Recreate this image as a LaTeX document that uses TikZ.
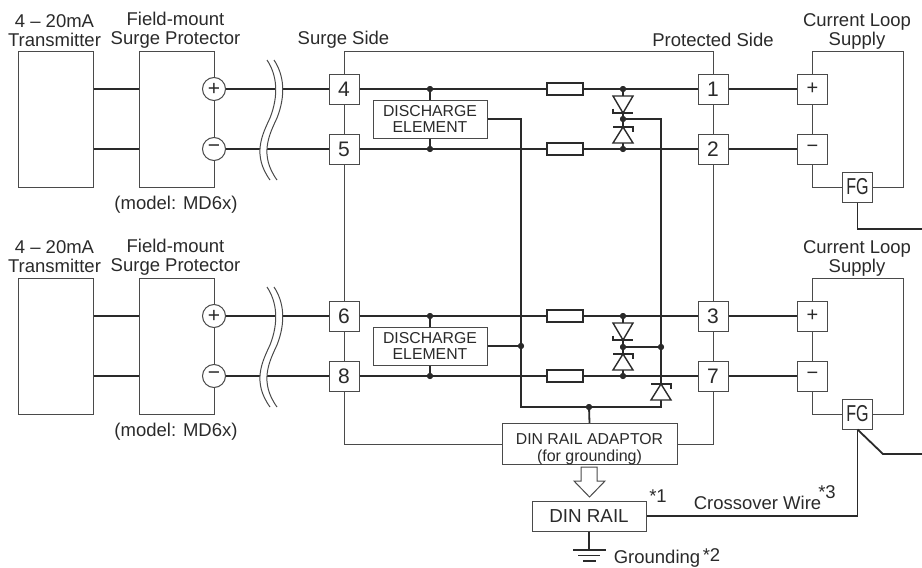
\documentclass[tikz,border=0pt]{standalone}
\usepackage{fontspec}
\usepackage{graphicx}
\setmainfont{Liberation Sans}
\definecolor{ink}{HTML}{2A2A2A}
\tikzset{
  wire/.style={draw=ink,line width=1.8pt},
  thinl/.style={draw=ink!85,line width=1pt},
  term/.style={draw=ink!85,line width=1pt,fill=white,minimum size=30pt,inner sep=0pt,text=ink,font=\fontsize{21}{21}\selectfont},
  bigbox/.style={draw=ink!85,line width=1pt,fill=white,inner sep=0pt,text=ink},
  lab/.style={text=ink,inner sep=0pt,align=center,font=\fontsize{18.5}{19}\selectfont},
  slab/.style={text=ink,inner sep=0pt,align=center,font=\fontsize{15.8}{16.5}\selectfont},
  ring/.style={circle,draw=ink!85,line width=1pt,fill=white,minimum size=23pt,inner sep=0pt,text=ink,font=\fontsize{21}{21}\selectfont},
  res/.style={draw=ink,line width=1.5pt,fill=white,minimum width=36pt,minimum height=12pt,inner sep=0pt},
  dot/.style={circle,fill=ink,minimum size=6pt,inner sep=0pt},
  zdown/.pic={\draw[draw=ink,line width=1.4pt,fill=white] (-10,-17)--(10,-17)--(0,0)--cycle;
     \draw[draw=ink,line width=1.4pt] (-10,-4.5)--(-10,0)--(10,0);},
  zup/.pic={\draw[draw=ink,line width=1.4pt,fill=white] (-10,16)--(10,16)--(0,0)--cycle;
     \draw[draw=ink,line width=1.4pt] (-10,0)--(10,0)--(10,4.5);},
  breakmark/.pic={
     \fill[white] (0,0) .. controls (10,15) and (12,35) .. (3,58) .. controls (-5,75) and (-15,95) .. (3,120)
        -- (10,120) .. controls (-8,95) and (2,75) .. (10,58) .. controls (19,35) and (17,15) .. (7,0) -- cycle;
     \draw[thinl] (0,0) .. controls (10,15) and (12,35) .. (3,58) .. controls (-5,75) and (-15,95) .. (3,120);
     \draw[thinl] (7,0) .. controls (17,15) and (19,35) .. (10,58) .. controls (2,75) and (-8,95) .. (10,120);},
}
\newcommand{\FGtxt}{\fontsize{23}{23}\selectfont\scalebox{0.7}[1]{FG}}
\begin{document}
\begin{tikzpicture}[x=1pt,y=-1pt]
\useasboundingbox (0,0) rectangle (922,568);
% outer boxes
\node[bigbox,minimum width=75pt,minimum height=136pt] (tx1) at (55.5,119) {};
\node[bigbox,minimum width=75pt,minimum height=136pt] (sp1) at (176.5,119) {};
\node[bigbox,minimum width=75pt,minimum height=136pt] (tx2) at (55.5,346) {};
\node[bigbox,minimum width=75pt,minimum height=136pt] (sp2) at (176.5,346) {};
\node[ring] (p1) at (214,89) {+};
\node[ring] (m1) at (214,149) {−};
\node[ring] (p2) at (214,316) {+};
\node[ring] (m2) at (214,376) {−};
% terminals
\node[term] (t4) at (344,89) {4};
\node[term] (t5) at (344,149) {5};
\node[term] (t6) at (344,316) {6};
\node[term] (t8) at (344,376) {8};
\node[term] (t1) at (713,89) {1};
\node[term] (t2) at (713,149) {2};
\node[term] (t3) at (713,316) {3};
\node[term] (t7) at (713,376) {7};
\node[term] (sa) at (812.5,89) {\fontsize{20}{20}\selectfont +};
\node[term] (sb) at (812.5,149) {\fontsize{20}{20}\selectfont −};
\node[term] (sc) at (812.5,316) {\fontsize{20}{20}\selectfont +};
\node[term] (sd) at (812.5,376) {\fontsize{20}{20}\selectfont −};
\node[term] (fg1) at (857.5,187) {\FGtxt};
\node[term] (fg2) at (857.5,414) {\FGtxt};
% resistors
\node[res] (r1) at (565,89) {};
\node[res] (r2) at (565,149) {};
\node[res] (r3) at (565,316) {};
\node[res] (r4) at (565,376) {};
% discharge elements
\node[bigbox,slab,minimum width=114pt,minimum height=38pt] (de1) at (430,119) {DISCHARGE\\ELEMENT};
\node[bigbox,slab,minimum width=114pt,minimum height=38pt] (de2) at (430,346) {DISCHARGE\\ELEMENT};
% adaptor and rail
\node[bigbox,slab,minimum width=175pt,minimum height=38pt] (ad) at (589.5,444) {\rule{0pt}{21pt}DIN RAIL ADAPTOR\\[0.5pt]{\fontsize{16}{16}\selectfont (for grounding)}};
\node[bigbox,minimum width=114pt,minimum height=30pt,font=\fontsize{18.8}{18}\selectfont] (rail) at (589,516) {DIN RAIL};
% junctions
\node[dot] (j1) at (430,89) {};
\node[dot] (j2) at (430,149) {};
\node[dot] (j3) at (430,316) {};
\node[dot] (j4) at (430,376) {};
\node[dot] (k1) at (623,89) {};
\node[dot] (k2) at (623,119) {};
\node[dot] (k3) at (623,149) {};
\node[dot] (k4) at (623,316) {};
\node[dot] (k5) at (623,347) {};
\node[dot] (k6) at (623,376) {};
\node[dot] (n1) at (661,347) {};
\node[dot] (n2) at (521,346) {};
\node[dot] (n3) at (589,407) {};
% thin frame coordinates
\coordinate (stl) at (344,51);
\coordinate (str) at (713,51);
\coordinate (ctl1) at (812.5,51);
\coordinate (ctr1) at (903,51);
\coordinate (cbl1) at (812.5,187);
\coordinate (cbr1) at (903,187);
\coordinate (ctl2) at (812.5,278);
\coordinate (ctr2) at (903,278);
\coordinate (cbl2) at (812.5,414);
\coordinate (cbr2) at (903,414);
\coordinate (eL) at (922,229);
\coordinate (eL2) at (922,454);
\coordinate (bend2) at (883,454);
\coordinate (c1) at (521,119);
\coordinate (c2) at (661,119);
\coordinate (c3) at (521,407);
\coordinate (c4) at (661,407);
\coordinate (f1) at (857.5,229);
\coordinate (f2) at (857.5,516);
% thin lines
\draw[thinl] (p1.south)--(m1.north);
\draw[thinl] (p1.north)--(p1.north|-sp1.north);
\draw[thinl] (m1.south)--(m1.south|-sp1.south);
\draw[thinl] (p2.north)--(p2.north|-sp2.north);
\draw[thinl] (m2.south)--(m2.south|-sp2.south);
\draw[thinl] (p2.south)--(m2.north);
\draw[thinl] (t4.north)--(stl)--(str)--(t1.north);
\draw[thinl] (t4)--(t5);\draw[thinl] (t5)--(t6);\draw[thinl] (t6)--(t8);
\draw[thinl] (t1)--(t2);\draw[thinl] (t2)--(t3);\draw[thinl] (t3)--(t7);
\draw[thinl] (t8.south)|-(ad.west);
\draw[thinl] (t7.south)|-(ad.east);
\draw[thinl] (sa.north)--(ctl1)--(ctr1)--(cbr1)--(fg1.east);
\draw[thinl] (sa)--(sb);
\draw[thinl] (sb.south)--(cbl1)--(fg1.west);
\draw[thinl] (sc.north)--(ctl2)--(ctr2)--(cbr2)--(fg2.east);
\draw[thinl] (sc)--(sd);
\draw[thinl] (sd.south)--(cbl2)--(fg2.west);
% heavy wires
\foreach \a/\b in {p1/t4,m1/t5,p2/t6,m2/t8}{\draw[wire] (\a)--(\b);}
\pic at (267,60) {breakmark};
\pic at (267,287) {breakmark};
\draw[wire] (tx1.east|-p1)--(sp1.west|-p1);
\draw[wire] (tx1.east|-m1)--(sp1.west|-m1);
\draw[wire] (tx2.east|-p2)--(sp2.west|-p2);
\draw[wire] (tx2.east|-m2)--(sp2.west|-m2);
\foreach \a/\b/\c/\d in {t4/r1/t1/sa,t5/r2/t2/sb,t6/r3/t3/sc,t8/r4/t7/sd}{
  \draw[wire] (\a)--(\b); \draw[wire] (\b)--(\c); \draw[wire] (\c)--(\d);}
\draw[wire] (j1)--(de1);\draw[wire] (de1)--(j2);
\draw[wire] (j3)--(de2);\draw[wire] (de2)--(j4);
\draw[wire] (de1.east)--(c1)--(c3)--(c4)--(c2)--(k2);
\draw[wire] (de2.east)--(n2);
\draw[wire] (k5)--(n1);
\draw[wire] (n3)--(ad.north);
\draw[wire] (k1)--(k2)--(k3);
\draw[wire] (k4)--(k5)--(k6);
\pic at (623,113) {zdown};
\pic at (623,127) {zup};
\pic at (623,340) {zdown};
\pic at (623,354) {zup};
\pic at (661,384) {zup};
% re-lay dots over the wires
\foreach \d in {j1,j2,j3,j4,k1,k2,k3,k4,k5,k6,n1,n2,n3}{\fill[ink] (\d) circle (3pt);}
% FG and rail wires
\draw[wire] (fg1.south)--(f1)--(eL);
\draw[wire] (fg2.south)--(f2)--(rail.east);
\draw[wire] (fg2.south)--(bend2)--(eL2);
% hollow arrow
\draw[thinl,fill=white] (581,467)--(597,467)--(597,481)--(605,481)--(589.5,497)--(574,481)--(581,481)--cycle;
% ground
\coordinate (gnd) at (589,550);
\draw[wire] (rail.south)--(gnd);
\draw[wire] (573,550)--(606,550);
\draw[wire] (578,555.5)--(600,555.5);
\draw[wire] (583,561)--(596,561);
% labels
\node[lab] (l1) at (54.5,30.5) {4 – 20mA\\Transmitter};
\node[lab] (l2) at (175.5,30.5) {Field-mount\\Surge Protector};
\node[lab] (l3) at (54.5,257) {4 – 20mA\\Transmitter};
\node[lab] (l4) at (175.5,257) {Field-mount\\Surge Protector};
\node[lab] (l5) at (343.5,39.5) {Surge Side};
\node[lab] (l6) at (713,39.5) {Protected Side};
\node[lab] (l7) at (857,31.5) {Current Loop\\Supply};
\node[lab] (l8) at (857,258) {Current Loop\\Supply};
\node[lab] (l9) at (176,205) {(model: MD6x)};
\node[lab] (l10) at (176,432) {(model: MD6x)};
\node[lab] (l11) at (658,496) {*1};
\node[lab] (l12) at (757.5,503) {Crossover Wire};
\node[lab] (l13) at (827,492) {*3};
\node[lab] (l14) at (657,559) {Grounding};
\node[lab] (l15) at (711.5,555.5) {*2};
\end{tikzpicture}
\end{document}
